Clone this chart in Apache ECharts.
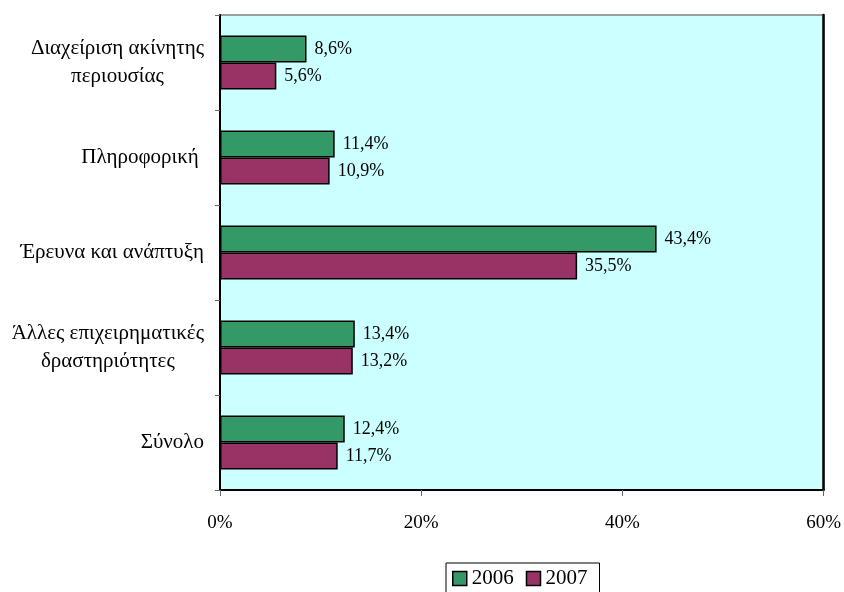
<!DOCTYPE html>
<html><head><meta charset="utf-8">
<script src="https://cdn.jsdelivr.net/npm/echarts@6/dist/echarts.min.js"></script>
<style>html,body{margin:0;padding:0;background:#fff}#c{width:844px;height:592px}</style>
</head><body><div id="c"></div>
<script>
const categories = ["Διαχείριση ακίνητης\nπεριουσίας", "Πληροφορική ", "Έρευνα και ανάπτυξη", "Άλλες επιχειρηματικές\nδραστηριότητες", "Σύνολο"];
const seriesNames = ["2006", "2007"];
const values2006 = [8.6, 11.4, 43.4, 13.4, 12.4];
const values2007 = [5.6, 10.9, 35.5, 13.2, 11.7];
const xTicks = [0, 20, 40, 60];

const FONT = '"Liberation Serif", "DejaVu Serif", serif';
const chart = echarts.init(document.getElementById('c'));
const labelFmt = p => p.value.toFixed(1).replace('.', ',') + '%';
const mkSeries = (name, data, color) => ({
  name, type: 'bar', data, barWidth: 27, barGap: '0%',
  itemStyle: { color, borderColor: '#000', borderWidth: 1.5 },
  label: { show: true, position: 'right', distance: 8, formatter: labelFmt,
           color: '#000', fontFamily: FONT, fontSize: 18 }
});
chart.setOption({
  animation: false,
  backgroundColor: '#fff',
  grid: { left: 220, right: 19, top: 15, bottom: 102, show: true,
          backgroundColor: '#CCFFFF', borderColor: '#808080', borderWidth: 1.5 },
  legend: {
    data: seriesNames, left: 446, top: 563, itemWidth: 14, itemHeight: 14, itemGap: 12,
    icon: 'rect', borderColor: '#000', borderWidth: 1, padding: [5, 12, 5, 6],
    textStyle: { fontFamily: FONT, fontSize: 21, color: '#000' },
    itemStyle: { borderColor: '#000', borderWidth: 1.5 }
  },
  xAxis: {
    type: 'value', min: 0, max: 60, interval: 20,
    axisLine: { show: true, lineStyle: { color: '#000', width: 2 } },
    axisTick: { show: true, length: 6, lineStyle: { color: '#666' } },
    splitLine: { show: false },
    axisLabel: { margin: 24, fontFamily: FONT, fontSize: 19, color: '#000',
                 formatter: v => xTicks.includes(v) ? v + '%' : '' }
  },
  yAxis: [{
    type: 'category', data: categories, inverse: true,
    axisLine: { show: true, lineStyle: { color: '#000', width: 2 } },
    axisTick: { show: true, length: 5, alignWithLabel: false, lineStyle: { color: '#666' } },
    axisLabel: {
      margin: 16, align: 'right', color: '#000', fontFamily: FONT, fontSize: 21,
      formatter: v => v.split('\n').map(l => '{c|' + l + '}').join('\n'),
      rich: { c: { align: 'center', fontFamily: FONT, fontSize: 21, color: '#000', lineHeight: 28 } }
    }
  }, {
    type: 'category', data: categories, inverse: true, position: 'right',
    axisLine: { show: true, lineStyle: { color: '#000', width: 2.5 } },
    axisTick: { show: false }, axisLabel: { show: false }, splitLine: { show: false }
  }],
  series: [
    mkSeries(seriesNames[0], values2006, '#339966'),
    mkSeries(seriesNames[1], values2007, '#993366')
  ]
});
</script></body></html>
